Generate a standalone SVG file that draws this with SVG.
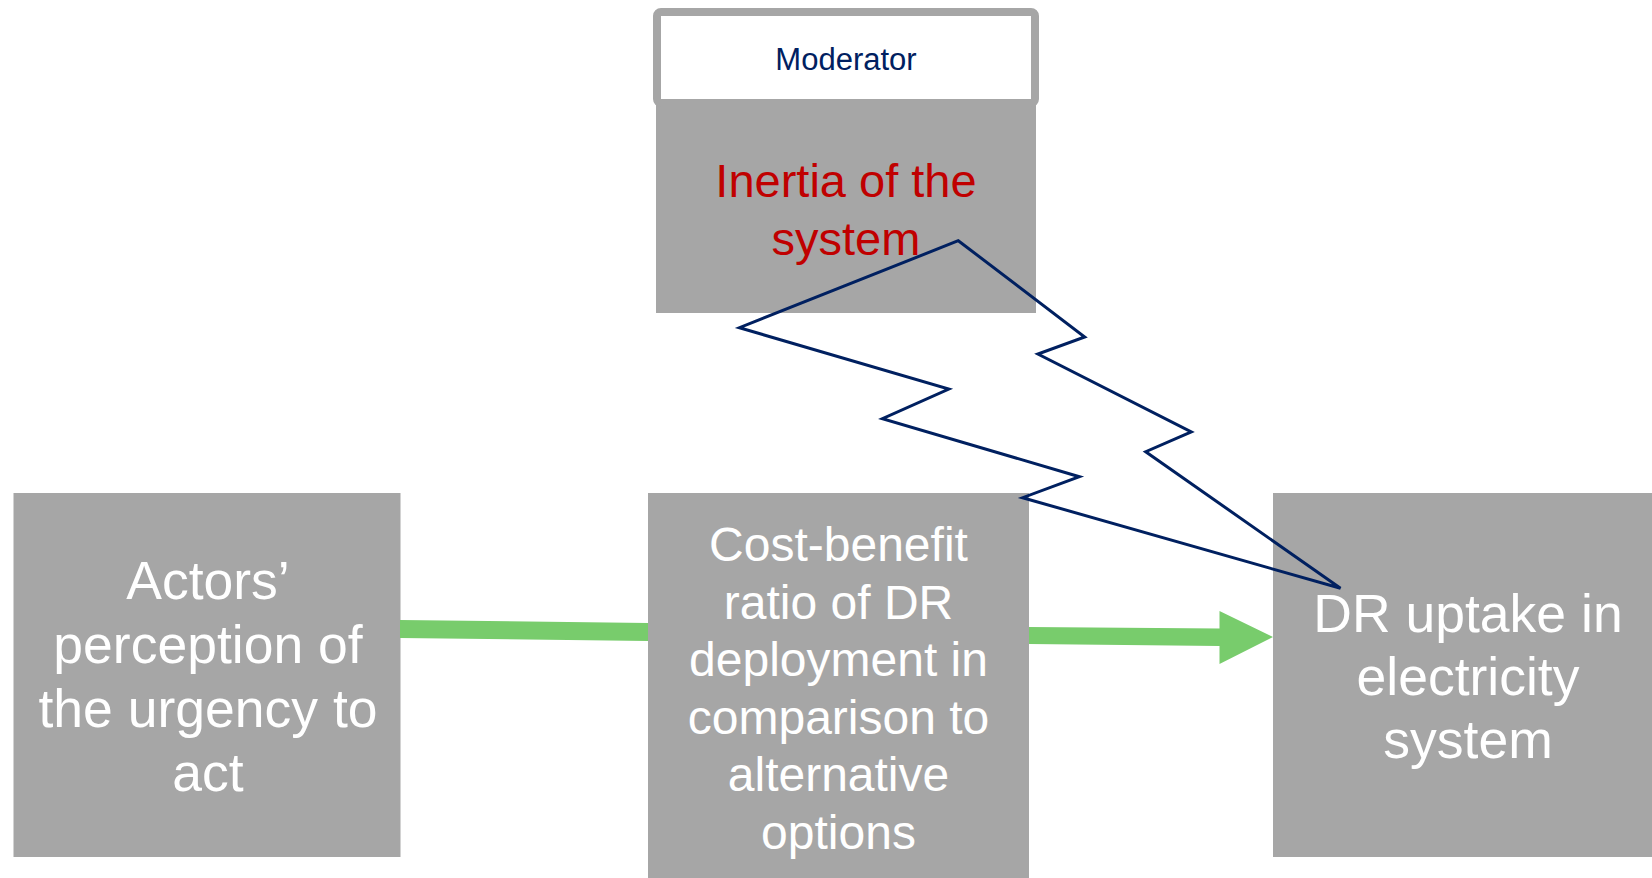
<svg xmlns="http://www.w3.org/2000/svg" width="1652" height="878" viewBox="0 0 1652 878">
<style>
.box{fill:#A6A6A6}
.t{font-family:"Liberation Sans",Arial,sans-serif;text-anchor:middle;fill:#FFFFFF}
.big{font-size:53.5px}
.mid{font-size:48px}
.green{fill:#78CC6C}
</style>
<rect width="1652" height="878" fill="#FFFFFF"/>
<g id="moderator">
<rect x="656" y="100" width="380" height="213" class="box"/>
<rect x="657" y="12" width="378" height="91" rx="4" fill="#FFFFFF" stroke="#A6A6A6" stroke-width="8"/>
<text x="846" y="70" font-family="Liberation Sans,Arial,sans-serif" font-size="31" fill="#002060" text-anchor="middle">Moderator</text>
<text class="t" x="846" y="197" font-size="47" style="fill:#C00000">Inertia of the</text>
<text class="t" x="846" y="255" font-size="47" style="fill:#C00000">system</text>
</g>
<g id="actors">
<rect x="13.5" y="493" width="387" height="364" class="box"/>
<text class="t big" x="208" y="599">Actors’</text>
<text class="t big" x="208" y="663">perception of</text>
<text class="t big" x="208" y="727">the urgency to</text>
<text class="t big" x="208" y="791">act</text>
</g>
<g id="costbenefit">
<rect x="648" y="493" width="381" height="390" class="box"/>
<text class="t mid" x="838.5" y="561">Cost-benefit</text>
<text class="t mid" x="838.5" y="618.5">ratio of DR</text>
<text class="t mid" x="838.5" y="676">deployment in</text>
<text class="t mid" x="838.5" y="733.5">comparison to</text>
<text class="t mid" x="838.5" y="791">alternative</text>
<text class="t mid" x="838.5" y="848.5">options</text>
</g>
<g id="uptake">
<rect x="1273" y="493" width="392" height="364" class="box"/>
<text class="t big" x="1468" y="632">DR uptake in</text>
<text class="t big" x="1468" y="695">electricity</text>
<text class="t big" x="1468" y="758">system</text>
</g>
<g id="connectors">
<polygon class="green" points="400,620 648,623 648,641 400,638"/>
<polygon class="green" points="1029,627 1219.5,628.5 1219.5,611 1273,637 1219.5,664 1219.5,646 1029,644"/>
<polygon points="958.3,240.7 739.4,327.7 948.8,389 882.4,418.7 1079.4,476.7 1022.6,497.7 1340.5,588.3 1145.7,451.7 1191.3,432 1037.9,354 1084.7,337" fill="none" stroke="#002060" stroke-width="3" stroke-linejoin="miter"/>
</g>
</svg>
